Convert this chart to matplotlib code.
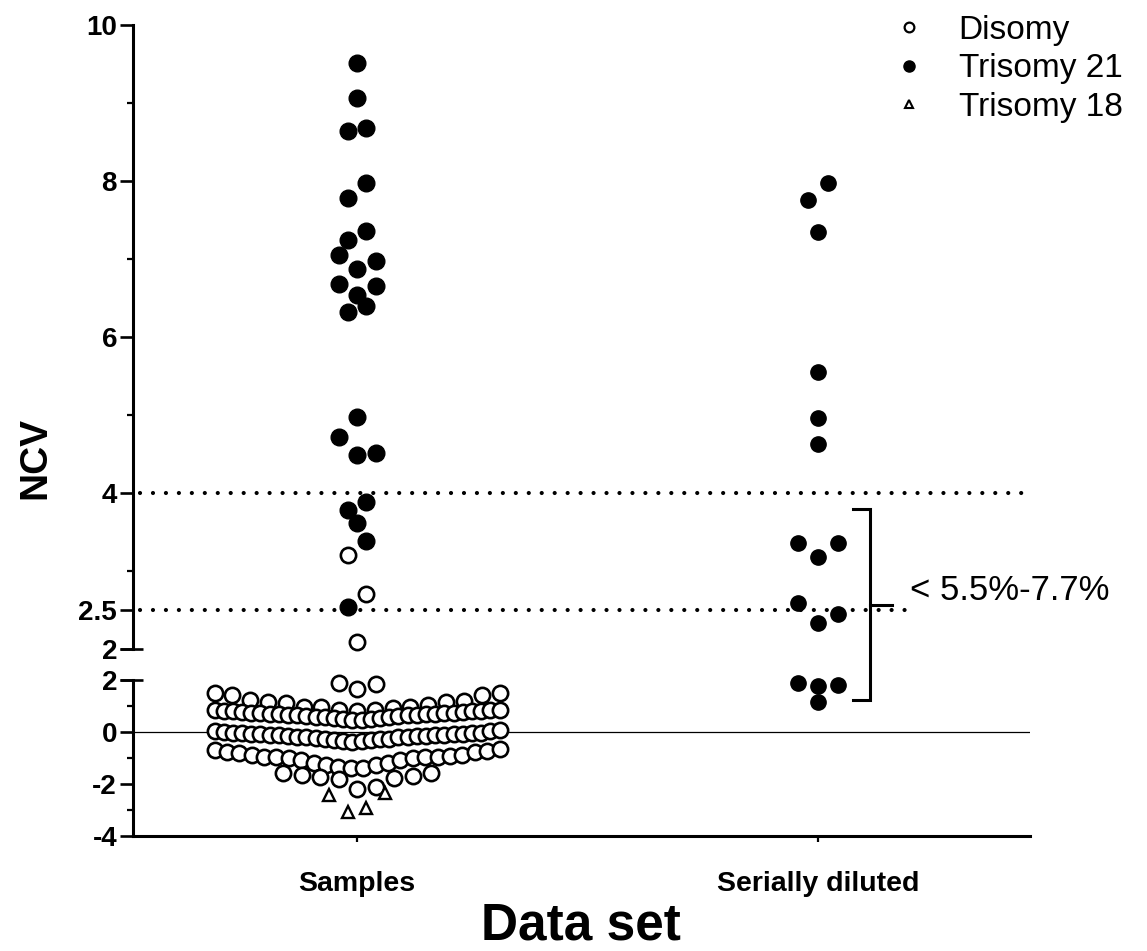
import numpy as np
import matplotlib
matplotlib.use('Agg')
import matplotlib.pyplot as plt
from matplotlib.lines import Line2D
from matplotlib.transforms import Affine2D

plt.rcParams['font.family'] = ['Liberation Sans', 'DejaVu Sans']

groups = ['Samples', 'Serially diluted']

# Samples column, upper part of the broken axis
samples_t21 = [9.51, 9.06, 8.68, 8.64, 7.97, 7.78, 7.36, 7.24, 7.05, 6.97, 6.87,
               6.68, 6.65, 6.54, 6.40, 6.32, 4.97, 4.72, 4.51, 4.49, 3.88, 3.78,
               3.62, 3.38, 2.54]
samples_dis_high = [3.21, 2.71, 2.09]

# Samples column, disomy cloud below the break (one list per swarm row)
dis_row_a = [1.88, 1.65, 1.85]
dis_row_b = [1.50, 1.42, 1.19, 1.15, 1.04, 0.96, 0.92, 0.85, 0.81, 0.83, 0.96,
             0.96, 1.12, 1.15, 1.23, 1.42, 1.50]
dis_row_c = [0.85, 0.83, 0.81, 0.79, 0.77, 0.75, 0.73, 0.71, 0.69, 0.66, 0.64,
             0.61, 0.58, 0.55, 0.51, 0.48, 0.46, 0.49, 0.53, 0.56, 0.59, 0.62,
             0.65, 0.67, 0.69, 0.71, 0.73, 0.75, 0.77, 0.79, 0.81, 0.83]
dis_row_d = [0.08, 0.05, 0.02, 0.00, -0.02, -0.05, -0.07, -0.10, -0.12, -0.15,
             -0.18, -0.21, -0.25, -0.28, -0.32, -0.36, -0.38, -0.34, -0.30, -0.27,
             -0.24, -0.21, -0.19, -0.17, -0.15, -0.13, -0.11, -0.09, -0.07, -0.06,
             -0.05, -0.04]
dis_row_e = [-0.69, -0.77, -0.81, -0.88, -0.96, -0.96, -1.00, -1.08, -1.19, -1.27,
             -1.38, -1.38, -1.35, -1.27, -1.19, -1.08, -1.00, -0.96, -0.96, -0.92,
             -0.88, -0.77, -0.73, -0.65]
dis_row_f = [-1.58, -1.69, -1.77, -2.10, -2.20, -1.81, -1.73, -1.65, -1.58]
samples_t18 = [-2.42, -3.08, -2.92, -2.35]

# Serially diluted column
serial_t21_high = [7.97, 7.76, 7.35, 5.55, 4.96, 4.63, 3.36, 3.36, 3.18, 2.59, 2.45, 2.33]
serial_t21_low = [1.88, 1.81, 1.77, 1.15]

W, H = 1147, 951
fig = plt.figure(figsize=(W / 100, H / 100), dpi=100)
ax_top = fig.add_axes([133 / W, 1 - 649 / H, 897 / W, 624 / H])
ax_bot = fig.add_axes([133 / W, 1 - 836 / H, 897 / W, 156 / H])

for ax in (ax_top, ax_bot):
    ax.set_xlim(0.514, 2.46)
    for s in ('top', 'right'):
        ax.spines[s].set_visible(False)
    ax.spines['left'].set_linewidth(2.2)
    ax.tick_params(axis='y', which='major', length=9.5, width=1.9, pad=2,
                   labelsize=20)
    ax.tick_params(axis='y', which='minor', length=4.5, width=1.6)

ax_top.set_ylim(2, 10)
ax_top.spines['bottom'].set_visible(False)
ax_top.set_xticks([])
ax_top.set_yticks([2, 2.5, 4, 6, 8, 10])
ax_top.set_yticklabels(['2', '2.5', '4', '6', '8', '10'], fontweight='bold')
ax_top.set_yticks([3, 5, 7, 9], minor=True)

ax_bot.set_ylim(-4, 2)
ax_bot.spines['bottom'].set_linewidth(2.2)
ax_bot.set_yticks([-4, -2, 0, 2])
ax_bot.set_yticklabels(['-4', '-2', '0', '2'], fontweight='bold')
ax_bot.set_yticks([-3, -1, 1], minor=True)
ax_bot.set_xticks([1, 2])
ax_bot.set_xticklabels(groups, fontweight='bold', fontsize=20.5)
ax_bot.tick_params(axis='x', length=4.5, width=1.6, pad=21)

# break marks at the two "2" ticks
for ax in (ax_top, ax_bot):
    ax.plot([-0.0145, 0.011], [2, 2], transform=ax.get_yaxis_transform(),
            color='black', lw=1.9, clip_on=False, solid_capstyle='butt')


def place_row(ax, xc, vals, step=18.5, max_w=285):
    # lowest value in the middle, the rest alternating outwards
    ppx = ax.transData.transform((1, 0))[0] - ax.transData.transform((0, 0))[0]
    n = len(vals)
    gap = step if n < 2 else min(step, max_w / (n - 1))
    order = np.argsort(vals, kind='stable')
    if n % 2:
        slots = [0] + [s for k in range(1, n) for s in (k, -k)]
    else:
        slots = [s for k in range(n) for s in (-(k + 0.5), k + 0.5)]
    xs = np.empty(n)
    for slot, i in zip(slots[:n], order):
        xs[i] = xc + slot * gap / ppx
    return xs


def auto_swarm(ax, xc, vals, diam=18, step=18.5):
    vals = np.asarray(vals)
    py = ax.transData.transform(np.column_stack([np.ones(len(vals)), vals]))[:, 1]
    idx = np.argsort(-vals, kind='stable')
    rows, cur = [], [idx[0]]
    for i in idx[1:]:
        if py[cur[0]] - py[i] < diam:
            cur.append(i)
        else:
            rows.append(cur)
            cur = [i]
    rows.append(cur)
    xs = np.empty(len(vals))
    for r in rows:
        xs[r] = place_row(ax, xc, vals[r], step=step)
    return xs


open_kw = dict(ls='none', marker='o', mfc='white', mec='black', ms=11, mew=1.9,
               clip_on=False)
fill_kw = dict(ls='none', marker='o', mfc='black', mec='black', ms=12, clip_on=False)

# reference lines
ax_top.axhline(4, xmin=0.008, xmax=1, color='black', lw=3, ls=(0, (0.01, 3.1)),
               dash_capstyle='round', zorder=1)
ax_top.axhline(2.5, xmin=0.008, xmax=0.861, color='black', lw=3, ls=(0, (0.01, 3.1)),
               dash_capstyle='round', zorder=1)
ax_bot.axhline(0, color='black', lw=0.9, zorder=1)

# samples, upper part
up_vals = np.array(samples_t21 + samples_dis_high)
up_x = auto_swarm(ax_top, 1, up_vals)
nt = len(samples_t21)
ax_top.plot(up_x[:nt], up_vals[:nt], zorder=3, **fill_kw)
ax_top.plot(up_x[nt:], up_vals[nt:], zorder=3, **open_kw)

# samples, disomy cloud
for row in (dis_row_a, dis_row_b, dis_row_c, dis_row_d, dis_row_e, dis_row_f):
    xs = place_row(ax_bot, 1, row)
    o = np.argsort(xs)
    ax_bot.plot(xs[o], np.asarray(row)[o], zorder=3, **open_kw)

t18_x = place_row(ax_bot, 1, samples_t18)
ax_bot.plot(t18_x, samples_t18, ls='none', marker='^', mfc='white', mec='black',
            ms=8.5, mew=1.7, zorder=3)

# serially diluted
sx = auto_swarm(ax_top, 2, serial_t21_high, diam=21, step=20)
ax_top.plot(sx, serial_t21_high, zorder=3, ls='none', marker='o', mfc='black',
            mec='black', ms=11, clip_on=False)
sx_low = auto_swarm(ax_bot, 2, serial_t21_low, diam=8, step=20)
ax_bot.plot(sx_low, serial_t21_low, zorder=3, ls='none', marker='o', mfc='black',
            mec='black', ms=11, clip_on=False)

# bracket and its label (pixel coordinates)
px = Affine2D().scale(1 / W, -1 / H).translate(0, 1) + fig.transFigure
fig.add_artist(Line2D([853, 870, 870, 853], [509, 509, 700, 700], transform=px,
                      color='black', lw=2.2, solid_joinstyle='miter'))
fig.add_artist(Line2D([870, 892], [605, 605], transform=px, color='black', lw=2.2))
fig.text(910 / W, 1 - 590 / H, '< 5.5%-7.7%', fontsize=25, ha='left', va='center')

fig.text(35 / W, 1 - 458 / H, 'NCV', fontsize=28, fontweight='bold', rotation=90,
         ha='center', va='center')
fig.text(581 / W, 1 - 926 / H, 'Data set', fontsize=37, fontweight='bold',
         ha='center', va='center')

handles = [
    Line2D([], [], ls='none', marker='o', mfc='white', mec='black', ms=7, mew=1.6),
    Line2D([], [], ls='none', marker='o', mfc='black', mec='black', ms=8),
    Line2D([], [], ls='none', marker='^', mfc='white', mec='black', ms=6, mew=1.5),
]
fig.legend(handles, ['Disomy', 'Trisomy 21', 'Trisomy 18'], loc='upper left',
           bbox_to_anchor=(892 / W, 1 - 15 / H), frameon=False, fontsize=24,
           handlelength=1.0, handletextpad=1.0, labelspacing=0.22, borderpad=0,
           borderaxespad=0)

fig.savefig('out.png', dpi=100)
